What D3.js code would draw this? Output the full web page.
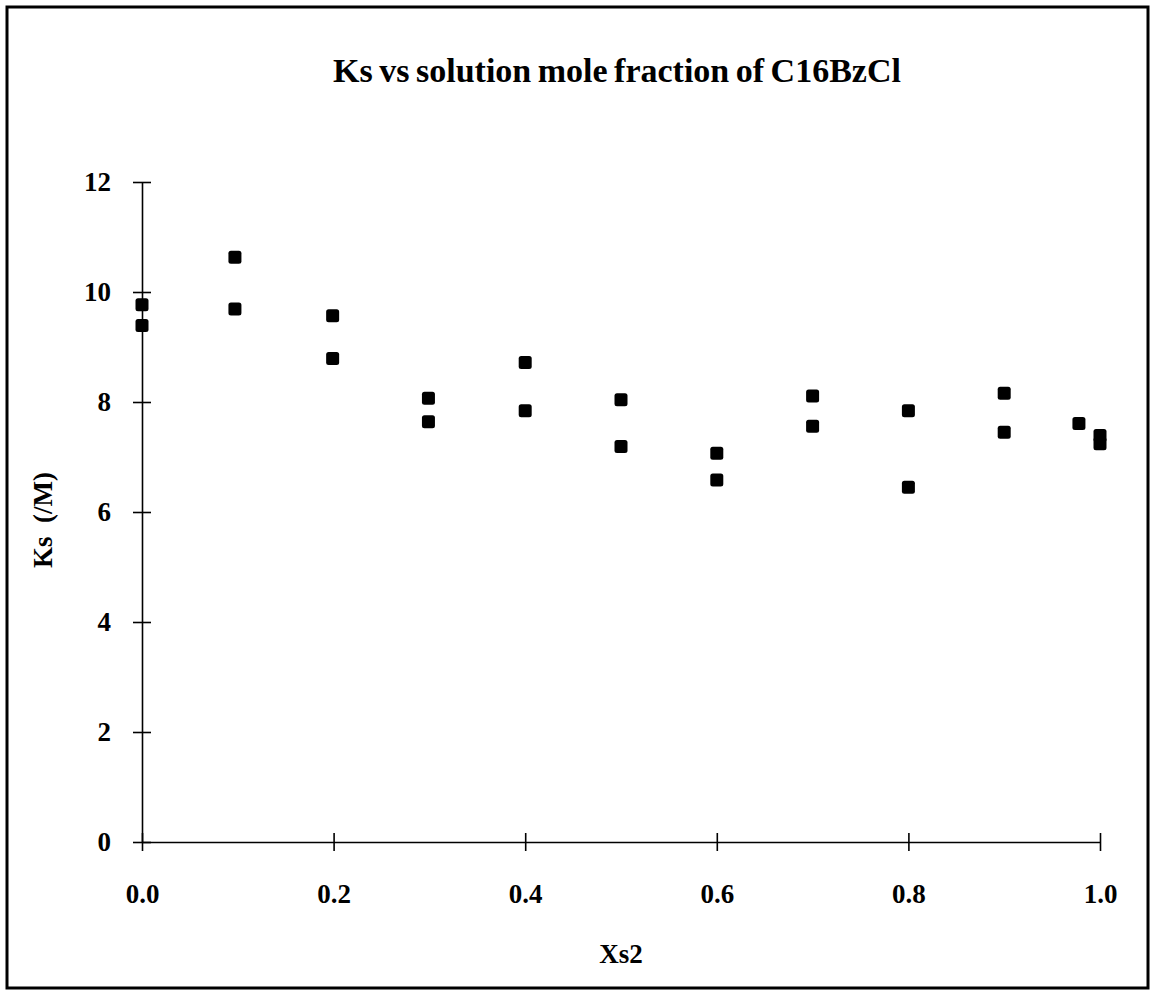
<!DOCTYPE html>
<html>
<head>
<meta charset="utf-8">
<script src="https://cdn.jsdelivr.net/npm/d3@7"></script>
<style>
  body { margin: 0; background: #fff; }
  .axis path, .axis line { stroke: #000; stroke-width: 1.6; }
  .axis text { font-family: "Liberation Serif", "Times New Roman", serif; font-weight: bold; font-size: 27px; fill: #000; }
  .title { font-family: "Liberation Serif", "Times New Roman", serif; font-weight: bold; fill: #000; }
</style>
</head>
<body>
<div id="chart"></div>
<script>

// Data
const xs2 = [0, 0, 0.097, 0.097, 0.199, 0.199, 0.299, 0.299, 0.4, 0.4, 0.5, 0.5,
	0.6, 0.6, 0.7, 0.7, 0.8, 0.8, 0.9, 0.9, 0.978, 1.0, 1.0];
const ks = [9.77, 9.39, 10.63, 9.69, 9.57, 8.79, 8.07, 7.64, 8.72, 7.84, 8.04, 7.19,
	7.07, 6.58, 8.11, 7.56, 7.84, 6.45, 8.16, 7.45, 7.61, 7.39, 7.24];
const xTicks = [0, 0.2, 0.4, 0.6, 0.8, 1.0];
const yTicks = [0, 2, 4, 6, 8, 10, 12];

const chartTitle = "Ks vs solution mole fraction of C16BzCl";
const xLabel = "Xs2";
const yLabel = "Ks  (/M)";

let width = 1152, height = 994;
let margin = {top: 182, right: 52, bottom: 152, left: 142};
let w = width - margin.left - margin.right;
let h = height - margin.top - margin.bottom;

let svg = d3.select("#chart").append("svg")
	.attr("width", width)
	.attr("height", height);

// outer frame
svg.append("rect")
	.attr("x", 7).attr("y", 7)
	.attr("width", width - 11).attr("height", height - 13)
	.attr("fill", "none")
	.attr("stroke", "#000")
	.attr("stroke-width", 3);

let g = svg.append("g")
	.attr("transform", `translate(${margin.left}, ${margin.top})`);

let x = d3.scaleLinear().domain([0, 1]).range([0, w]);
let y = d3.scaleLinear().domain([0, 12]).range([h, 0]);

let xAxis = d3.axisBottom(x)
	.tickValues(xTicks)
	.tickFormat(d3.format(".1f"))
	.tickSize(9)
	.tickSizeOuter(0)
	.tickPadding(33);
let yAxis = d3.axisLeft(y)
	.tickValues(yTicks)
	.tickFormat(d3.format("d"))
	.tickSize(9)
	.tickSizeOuter(0)
	.tickPadding(22);

let gx = g.append("g")
	.attr("class", "x-axis axis")
	.attr("transform", `translate(0, ${h})`)
	.call(xAxis);
gx.selectAll(".tick line").attr("y1", -9);

let gy = g.append("g")
	.attr("class", "y-axis axis")
	.call(yAxis);
gy.selectAll(".tick line").attr("x1", 9);

// points
let pts = xs2.map((d, i) => ({x: d, y: ks[i]}));
g.selectAll(".pt")
	.data(pts)
	.enter().append("rect")
	.attr("class", "pt")
	.attr("x", d => x(d.x) - 6.5)
	.attr("y", d => y(d.y) - 6.5)
	.attr("width", 13)
	.attr("height", 13)
	.attr("rx", 2.5)
	.attr("fill", "#000");

// titles
svg.append("text")
	.attr("class", "title")
	.attr("x", 617)
	.attr("y", 82)
	.attr("text-anchor", "middle")
	.style("font-size", "34px")
	.style("word-spacing", "-2px")
	.text(chartTitle);

svg.append("text")
	.attr("class", "title")
	.attr("x", margin.left + w / 2)
	.attr("y", 963)
	.attr("text-anchor", "middle")
	.style("font-size", "27px")
	.text(xLabel);

svg.append("text")
	.attr("class", "title")
	.attr("transform", `translate(52, 520) rotate(-90)`)
	.attr("text-anchor", "middle")
	.style("font-size", "27px")
	.style("white-space", "pre")
	.text(yLabel);

</script>
</body>
</html>
